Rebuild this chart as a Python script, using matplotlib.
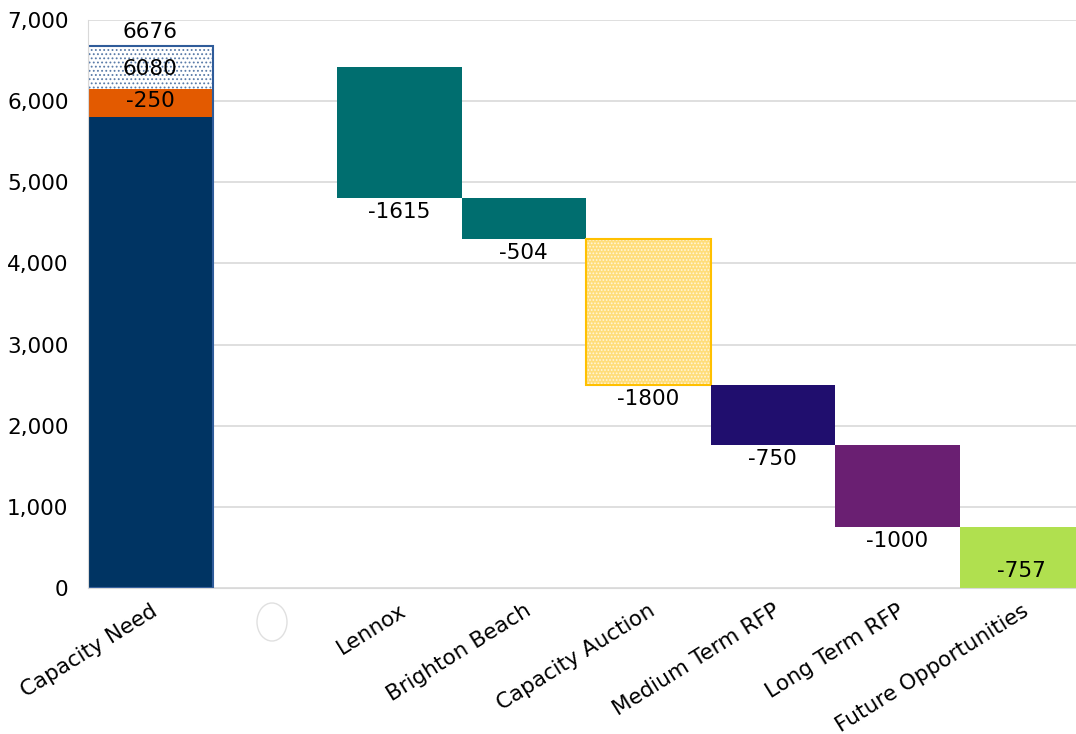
import matplotlib
matplotlib.use("Agg")
from matplotlib import pyplot as plt
from matplotlib.patches import Ellipse
import numpy as np

plt.rcParams["hatch.linewidth"] = 0.8

categories = ["Capacity Need", "", "Lennox", "Brighton Beach", "Capacity Auction",
              "Medium Term RFP", "Long Term RFP", "Future Opportunities"]

# first column is made of three stacked pieces
need_total = 6676
need_base = 5810
need_orange = 340
need_labels = ["6676", "6080", "-250"]

# reductions after the blank column
steps = [-250, -1615, -504, -1800, -750, -1000, -757]
step_labels = ["-1615", "-504", "-1800", "-750", "-1000", "-757"]
step_colors = ["#006E6F", "#006E6F", None, "#200E6E", "#6A1F72", "#B0E04F"]

fs = 15.5

fig = plt.figure(figsize=(10.76, 7.34), dpi=100)
ax = fig.add_axes([88/1076, 146/734, 996/1076, 568/734])

ax.set_ylim(0, 7000)
ax.set_xlim(-0.5, 7.5)
ax.set_yticks(np.arange(0, 7001, 1000))
ax.yaxis.set_major_formatter(matplotlib.ticker.StrMethodFormatter("{x:,.0f}"))
ax.grid(axis="y", color="#D9D9D9", linewidth=1.2)
ax.set_axisbelow(True)
for s in ["top", "right"]:
    ax.spines[s].set_visible(False)
ax.spines["left"].set_color("#D9D9D9")
ax.spines["bottom"].set_color("#D9D9D9")
ax.tick_params(axis="y", length=0, labelsize=15.5, pad=14)
ax.tick_params(axis="x", length=0, pad=9)

# capacity need column
ax.bar(0, need_base, width=1.0, color="#003463")
ax.bar(0, need_orange, bottom=need_base, width=1.0, color="#E35A00")
top_piece = need_total - need_base - need_orange
ax.bar(0, top_piece, bottom=need_base + need_orange, width=1.0, color="white",
       edgecolor="#5A7BA8", hatch="....", linewidth=0)
ax.bar(0, need_total, width=1.0, facecolor="none", edgecolor="#2F5C9A", linewidth=1.5)
ax.text(0, need_total + 50, need_labels[0], ha="center", va="bottom", fontsize=fs)
ax.text(0, need_base + need_orange + top_piece / 2 - 20, need_labels[1], ha="center", va="center", fontsize=fs)
ax.text(0, need_base + need_orange / 2 + 20, need_labels[2], ha="center", va="center", fontsize=fs)

level = need_total + steps[0]
for i, (d, lab, col) in enumerate(zip(steps[1:], step_labels, step_colors)):
    x = i + 2
    bottom = level + d
    if col is None:
        ax.bar(x, -d, bottom=bottom, width=1.0, color="#FFDD7A", edgecolor="#FFF6DC",
               hatch=".....", linewidth=0)
        ax.bar(x, -d, bottom=bottom, width=1.0, facecolor="none", edgecolor="#FFC000", linewidth=1.5)
    else:
        ax.bar(x, -d, bottom=bottom, width=1.0, color=col)
    if bottom > 200:
        ax.text(x, bottom - 50, lab, ha="center", va="top", fontsize=fs)
    else:
        ax.text(x, 210, lab, ha="center", va="center", fontsize=fs)
    level = bottom

ax.set_xticks(range(len(categories)))
ax.set_xticklabels(categories, rotation=32, ha="right", rotation_mode="anchor", fontsize=15.5)

fig.patches.append(Ellipse((272/1076, 1 - 622/734), 30/1076, 38/734, transform=fig.transFigure,
                           facecolor="white", edgecolor="#E0E0E0", linewidth=1))

fig.savefig("out.png", dpi=100)
